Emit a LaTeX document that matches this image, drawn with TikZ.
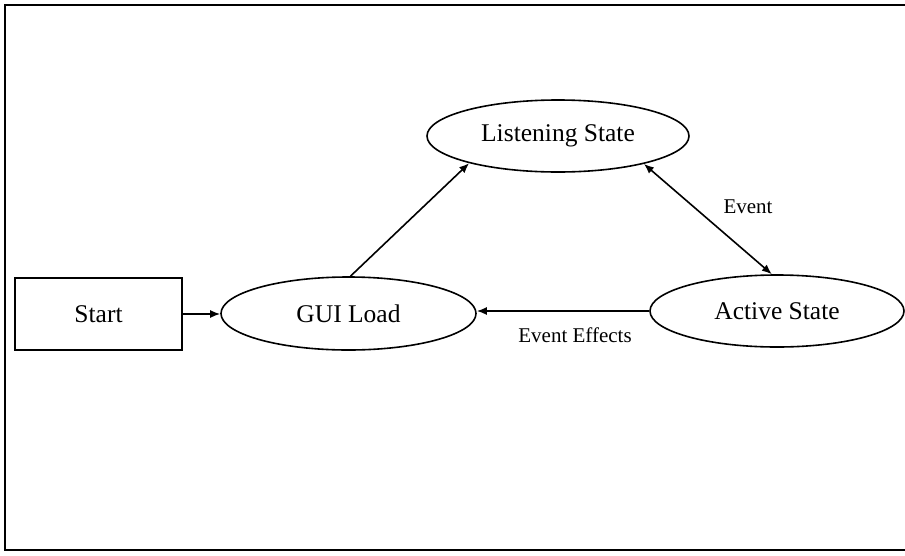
\documentclass[tikz,border=0pt]{standalone}
\usepackage{fontspec}
\setmainfont{Liberation Serif}
\usetikzlibrary{shapes.geometric,arrows.meta}
\begin{document}
\begin{tikzpicture}[x=1pt,y=-1pt,
  statebox/.style={draw,line width=1.6pt,ellipse,inner sep=0pt,font=\fontsize{25.5}{28}\selectfont},
  startbox/.style={draw,line width=1.6pt,rectangle,inner sep=0pt,minimum width=167pt,minimum height=72pt,font=\fontsize{25.5}{28}\selectfont},
  conn/.style={line width=1.6pt,-{Latex[length=10pt,width=8pt]}},
  lbl/.style={font=\fontsize{21}{24}\selectfont}]
\useasboundingbox (0,0) rectangle (905,555);
\fill[white] (0,0) rectangle (905,555);
\draw[line width=1.6pt] (905,5) -- (5,5) -- (5,550) -- (905,550);
\node[startbox] (start) at (98.5,314) {Start};
\node[statebox,minimum width=255pt,minimum height=73pt] (gui) at (348.5,313.5) {GUI Load};
\node[statebox,minimum width=262pt,minimum height=72pt] (lis) at (558,136) {Listening State};
\node[statebox,minimum width=254pt,minimum height=72pt] (act) at (777,311) {Active State};
\draw[conn] (start.east) -- (start.east -| gui.west);
\draw[conn] (gui.87) -- (lis.197);
\draw[conn,{Latex[length=10pt,width=8pt]}-{Latex[length=10pt,width=8pt]}] (lis.-18) -- (act.98);
\draw[conn] (act.west) -- (act.west -| gui.east);
\node[lbl] (ev) at (748,207) {Event};
\node[lbl] (eve) at (575,335) {Event Effects};
\end{tikzpicture}
\end{document}
